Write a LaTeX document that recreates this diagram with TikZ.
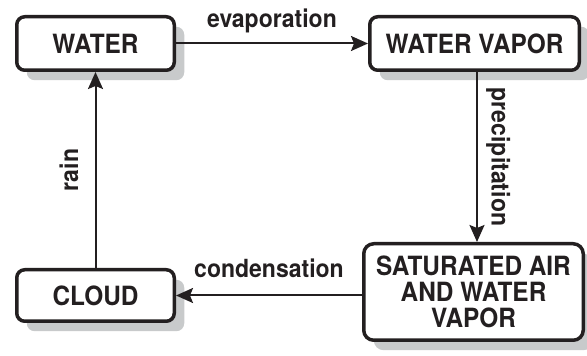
\documentclass[tikz,border=0pt]{standalone}
\usepackage{fontspec}
\newfontfamily\hf{TeX Gyre Heros}[FakeStretch=0.92]
\usetikzlibrary{arrows.meta,shadows,calc}
\definecolor{ink}{HTML}{231F20}
\definecolor{shade}{HTML}{C8CACB}
\tikzset{
  box/.style={draw=ink, line width=3.5pt, rounded corners=8pt, fill=white,
    font=\hf\bfseries\fontsize{26.5}{26}\selectfont, text=ink, align=center, inner sep=0pt,
    drop shadow={shadow xshift=10pt, shadow yshift=-10pt, fill=shade, opacity=1}},
  arr/.style={draw=ink, line width=2pt, -{Stealth[length=17pt,width=15pt,inset=3pt]}},
  lbl/.style={font=\hf\bfseries\fontsize{25}{26}\selectfont, text=ink, inner sep=0pt}
}
\begin{document}
\begin{tikzpicture}[x=1pt,y=1pt]
\useasboundingbox (0,0) rectangle (587,356);
\node[box, minimum width=157.5pt, minimum height=53.5pt] (water) at (95.5,312.5) {WATER};
\node[box, minimum width=209.5pt, minimum height=53.5pt] (wv) at (474.5,312.5) {WATER VAPOR};
\node[box, minimum width=219.5pt, minimum height=96.5pt, rounded corners=10pt] (sat) at (473.5,64) {SATURATED AIR\\AND WATER\\VAPOR};
\node[box, minimum width=157.5pt, minimum height=51.5pt] (cloud) at (95.5,60.5) {CLOUD};
\draw[arr] (water.east) -- node[lbl, midway, anchor=base, yshift=16pt] (le) {evaporation} (wv.west);
\draw[arr] ([xshift=2.5pt]wv.south) -- ([xshift=2.5pt]wv.south |- sat.north);
\draw[arr] (sat.west |- cloud.east) -- node[lbl, midway, anchor=base, yshift=18pt] (lc) {condensation} (cloud.east);
\draw[arr] (cloud.north) -- (water.south);
\node[lbl, rotate=-90, anchor=base] (lp) at ($(wv.south)!0.5!(sat.north)+(17.5,0)$) {precipitation};
\node[lbl, rotate=90, anchor=base] (lr) at ($(cloud.north)!0.5!(water.south)+(-17.5,0)$) {rain};
\end{tikzpicture}
\end{document}
